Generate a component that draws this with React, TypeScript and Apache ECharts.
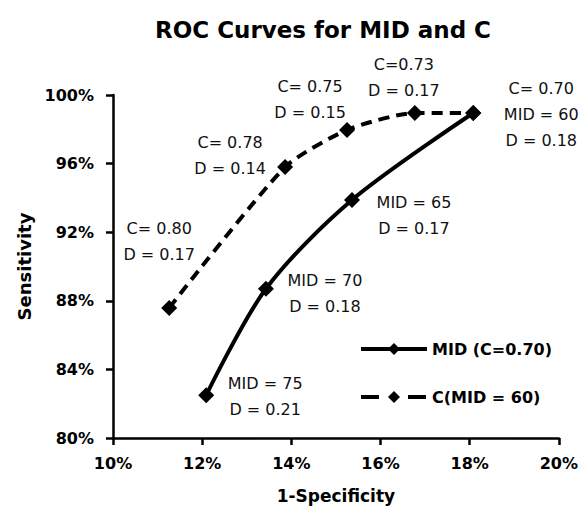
import React, { useEffect, useRef } from "react";
import * as echarts from "echarts";

// 1-Specificity (%) and Sensitivity (%) for the MID curve (C = 0.70)
const midSpec = [12.09, 13.43, 15.36, 18.08];
const midSens = [82.5, 88.7, 93.88, 98.95];
const midLabels = [
  "MID = 75\nD = 0.21",
  "MID = 70\nD = 0.18",
  "MID = 65\nD = 0.17",
  "C= 0.70\nMID = 60\nD = 0.18",
];

// 1-Specificity (%) and Sensitivity (%) for the C curve (MID = 60)
const cSpec = [11.26, 13.86, 15.25, 16.77, 18.08];
const cSens = [87.58, 95.8, 97.96, 98.95, 98.95];
const cLabels = [
  "C= 0.80\nD = 0.17",
  "C= 0.78\nD = 0.14",
  "C= 0.75\nD = 0.15",
  "C=0.73\nD = 0.17",
  "",
];

const seriesNames = ["MID (C=0.70)", "C(MID = 60)"];
const xRange = { min: 10, max: 20, step: 2 };
const yRange = { min: 80, max: 100, step: 4 };

// label offsets (pixels) relative to each marker
const midLabelOffsets = [
  [59, 1],
  [59, 5],
  [62, 16],
  [68, 1],
];
const cLabelOffsets = [
  [-10, -67],
  [-55, -12],
  [-37, -30],
  [-11, -36],
  [0, 0],
];

const FONT = "DejaVu Sans";

function buildData(xs: number[], ys: number[], labels: string[], offs: number[][]) {
  return xs.map((x, i) => ({
    value: [x, ys[i]],
    label: {
      show: labels[i] !== "",
      position: "inside",
      offset: offs[i],
      formatter: labels[i],
      align: "center",
      verticalAlign: "middle",
      fontFamily: FONT,
      fontSize: 16,
      lineHeight: 26,
      color: "#111",
    },
  }));
}

export default function App() {
  const ref = useRef<HTMLDivElement>(null);
  useEffect(() => {
    if (!ref.current) return;
    const chart = echarts.init(ref.current, undefined, { renderer: "svg" });
    const axisLabelStyle = {
      fontFamily: FONT,
      fontWeight: "bold",
      fontSize: 16,
      color: "#000",
      formatter: "{value}%",
    };
    chart.setOption({
      animation: false,
      backgroundColor: "#fff",
      title: {
        text: "ROC Curves for MID and C",
        left: 150,
        top: 13,
        textStyle: { fontFamily: FONT, fontWeight: "bold", fontSize: 23, color: "#000" },
      },
      legend: {
        orient: "vertical",
        left: 354,
        top: 336,
        itemWidth: 66,
        itemHeight: 15,
        itemGap: 32,
        textStyle: { fontFamily: FONT, fontWeight: "bold", fontSize: 16, color: "#000" },
        data: [
          { name: seriesNames[0], lineStyle: { width: 4, type: "solid" } },
          { name: seriesNames[1], lineStyle: { width: 4, type: [18, 29] } },
        ],
      },
      grid: { left: 113, right: 22, top: 95, bottom: 74 },
      xAxis: {
        type: "value",
        min: xRange.min,
        max: xRange.max,
        interval: xRange.step,
        name: "1-Specificity",
        nameLocation: "middle",
        nameGap: 49,
        nameTextStyle: { fontFamily: FONT, fontWeight: "bold", fontSize: 17, color: "#000" },
        axisLine: { lineStyle: { color: "#000", width: 2.5 } },
        axisTick: { show: true, length: 7, lineStyle: { color: "#000", width: 2.5 } },
        axisLabel: { ...axisLabelStyle, margin: 17 },
        splitLine: { show: false },
      },
      yAxis: {
        type: "value",
        min: yRange.min,
        max: yRange.max,
        interval: yRange.step,
        name: "Sensitivity",
        nameLocation: "middle",
        nameGap: 72,
        nameTextStyle: { fontFamily: FONT, fontWeight: "bold", fontSize: 18, color: "#000" },
        axisLine: { show: true, lineStyle: { color: "#000", width: 2.5 } },
        axisTick: { show: true, length: 7, lineStyle: { color: "#000", width: 2.5 } },
        axisLabel: { ...axisLabelStyle, margin: 19 },
        splitLine: { show: false },
      },
      series: [
        {
          name: seriesNames[0],
          type: "line",
          smooth: 0.3,
          symbol: "diamond",
          symbolSize: 16,
          itemStyle: { color: "#000" },
          lineStyle: { color: "#000", width: 4 },
          data: buildData(midSpec, midSens, midLabels, midLabelOffsets),
          z: 3,
        },
        {
          name: seriesNames[1],
          type: "line",
          smooth: 0.22,
          symbol: "diamond",
          symbolSize: 16,
          itemStyle: { color: "#000" },
          lineStyle: { color: "#000", width: 4, type: [11, 7] },
          data: buildData(cSpec, cSens, cLabels, cLabelOffsets),
          z: 2,
        },
      ],
    });
    return () => chart.dispose();
  }, []);
  return (
    <div
      ref={ref}
      style={{ position: "absolute", left: 0, top: 0, width: 581, height: 512, background: "#fff" }}
    />
  );
}
